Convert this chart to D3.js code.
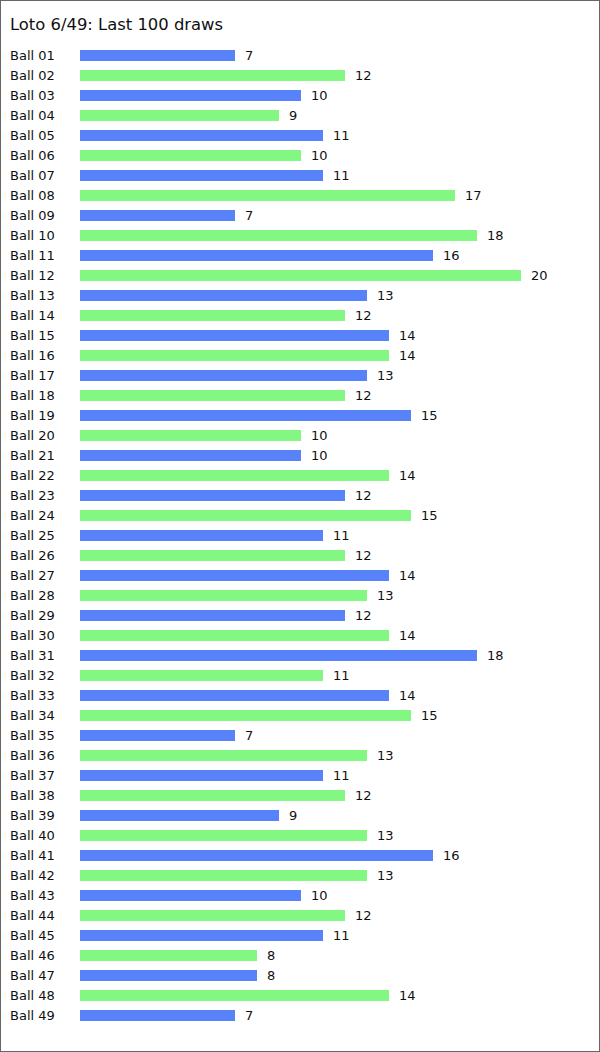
<!DOCTYPE html>
<html><head><meta charset="utf-8">
<script src="https://cdn.jsdelivr.net/npm/d3@7"></script>
<style>
html,body{margin:0;padding:0;background:#fff;}
svg{display:block;}
text{font-family:"DejaVu Sans",Verdana,sans-serif;fill:#111;}
</style></head>
<body>
<script>
const title = "Loto 6/49: Last 100 draws";
const balls = d3.range(1, 50).map(i => "Ball " + String(i).padStart(2, "0"));
const counts = [7,12,10,9,11,10,11,17,7,18,
                16,20,13,12,14,14,13,12,15,10,
                10,14,12,15,11,12,14,13,12,14,
                18,11,14,15,7,13,11,12,9,13,
                16,13,10,12,11,8,8,14,7];
const colors = ["#5882fa", "#82f782"];

const W = 600, H = 1052;
const svg = d3.select("body").append("svg").attr("width", W).attr("height", H);
svg.append("rect").attr("x", 0.5).attr("y", 0.5).attr("width", W - 1).attr("height", H - 1)
  .attr("fill", "#fff").attr("stroke", "#666");

svg.append("text").attr("x", 10).attr("y", 30).attr("font-size", 16.4).text(title);

const x = d3.scaleLinear().domain([0, 20]).range([80, 521.45]);
const y = d3.scaleBand().domain(balls).range([45, 45 + 20 * balls.length]).paddingInner(0.45).paddingOuter(0.225);
const bw = v => Math.round(x(v) - x(0));

const rows = svg.append("g").selectAll("g").data(balls).join("g");
rows.append("rect")
  .attr("x", x(0))
  .attr("y", d => Math.round(y(d)))
  .attr("width", (d, i) => bw(counts[i]))
  .attr("height", 11)
  .attr("fill", (d, i) => colors[i % 2]);
rows.append("text")
  .attr("x", 10)
  .attr("y", d => Math.round(y(d)) + 10)
  .attr("font-size", 13)
  .text(d => d);
rows.append("text")
  .attr("x", (d, i) => x(0) + bw(counts[i]) + 10)
  .attr("y", d => Math.round(y(d)) + 10)
  .attr("font-size", 13)
  .text((d, i) => counts[i]);
</script>
</body></html>
